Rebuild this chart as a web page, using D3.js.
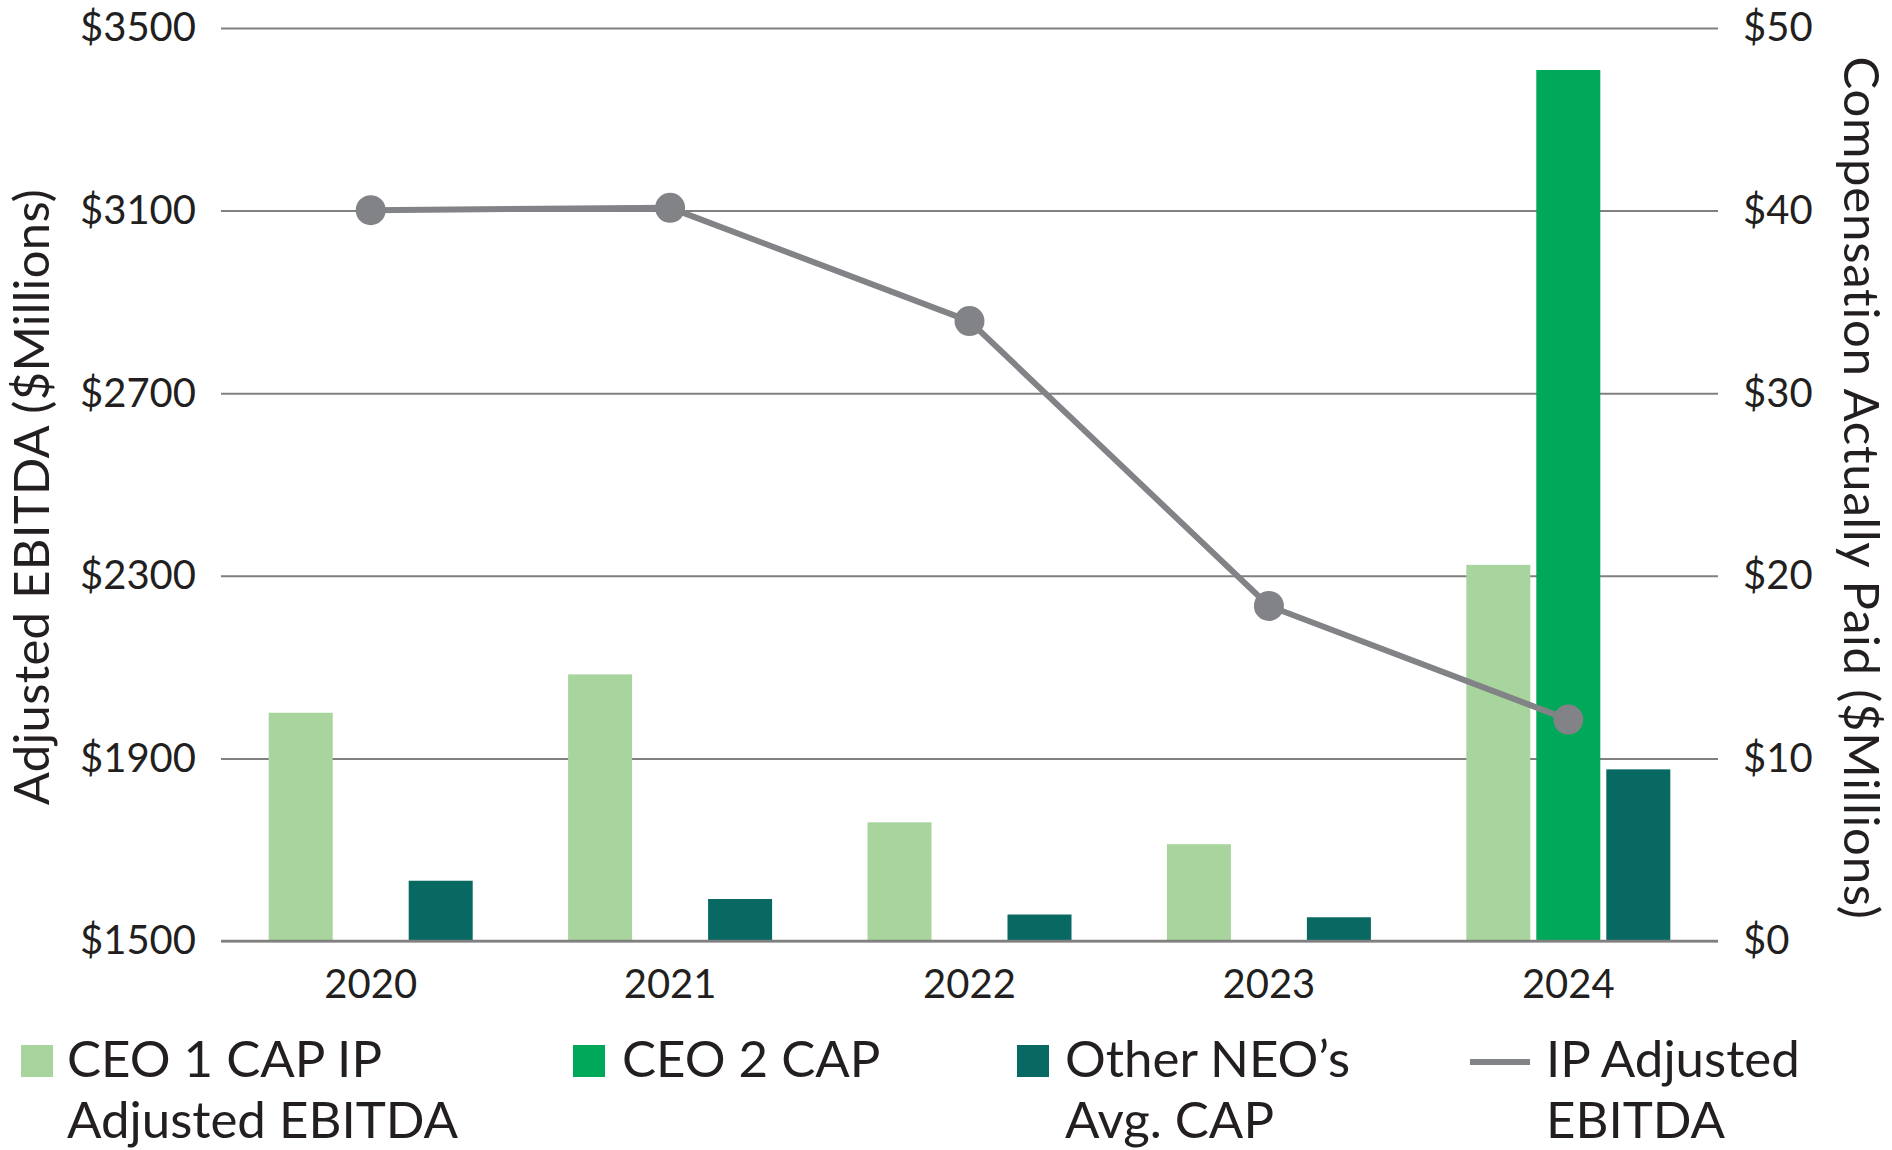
<!DOCTYPE html>
<html>
<head>
<meta charset="utf-8">
<script src="https://cdn.jsdelivr.net/npm/d3@7"></script>
<style>
  body { margin: 0; background: #fff; }
  svg text { font-family: Lato, "Open Sans", sans-serif; fill: #231f20; }
</style>
</head>
<body>
<div class="chart"></div>
<script>
// data
const years = ['2020', '2021', '2022', '2023', '2024'];
const ceo1Cap = [12.5, 14.6, 6.5, 5.3, 20.6];
const ceo2Cap = [null, null, null, null, 47.7];
const neoAvgCap = [3.3, 2.3, 1.45, 1.3, 9.4];
const ipEbitda = [3101, 3106, 2858, 2234, 1985];

const leftTicks = [1500, 1900, 2300, 2700, 3100, 3500];
const rightTicks = [0, 10, 20, 30, 40, 50];

const seriesKeys = ['ceo1', 'ceo2', 'neo'];
const seriesColors = ['#a8d59d', '#00a859', '#086962'];
const lineColor = '#828386';

const legendLabels = [
    ['CEO 1 CAP IP', 'Adjusted EBITDA'],
    ['CEO 2 CAP'],
    ['Other NEO\u2019s', 'Avg. CAP'],
    ['IP Adjusted', 'EBITDA']
];

const W = 1892, H = 1150;
const plotLeft = 221, plotRight = 1718, plotTop = 28, plotBottom = 941;

const svg = d3.select('.chart')
    .append('svg')
    .attr('width', W)
    .attr('height', H);

const x = d3.scaleBand().domain(years).range([plotLeft, plotRight]);
const yL = d3.scaleLinear().domain([1500, 3500]).range([plotBottom, plotTop]);
const yR = d3.scaleLinear().domain([0, 50]).range([plotBottom, plotTop]);

const groupW = 204;
const x1 = d3.scaleBand().domain(seriesKeys).range([0, groupW]).paddingInner(0.0857);

// gridlines + left labels
const leftAxis = svg.append('g')
    .attr('transform', `translate(${plotLeft},0)`)
    .call(d3.axisLeft(yL).tickValues(leftTicks).tickSize(-(plotRight - plotLeft)).tickPadding(25)
        .tickFormat(d => '$' + d));
leftAxis.select('.domain').remove();
leftAxis.selectAll('line').attr('stroke', '#808080').attr('stroke-width', 2);
leftAxis.selectAll('text').attr('font-size', 40);

// right labels
const rightAxis = svg.append('g')
    .attr('transform', `translate(${plotRight},0)`)
    .call(d3.axisRight(yR).tickValues(rightTicks).tickSize(0).tickPadding(25)
        .tickFormat(d => '$' + d));
rightAxis.select('.domain').remove();
rightAxis.selectAll('text').attr('font-size', 40);

// bars
const barData = [];
years.forEach((yr, i) => {
    [ceo1Cap, ceo2Cap, neoAvgCap].forEach((arr, k) => {
        if (arr[i] != null) barData.push({ year: yr, key: seriesKeys[k], value: arr[i], color: seriesColors[k] });
    });
});

svg.append('g').selectAll('rect')
    .data(barData)
    .enter()
    .append('rect')
    .attr('x', d => x(d.year) + x.bandwidth() / 2 - groupW / 2 + x1(d.key))
    .attr('width', x1.bandwidth())
    .attr('y', d => yR(d.value))
    .attr('height', d => yR(0) - yR(d.value))
    .attr('fill', d => d.color);

// bottom axis
const xAxis = svg.append('g')
    .attr('transform', `translate(0,${plotBottom})`)
    .call(d3.axisBottom(x).tickSize(0).tickPadding(0));
xAxis.select('.domain').remove();
xAxis.selectAll('text').attr('font-size', 40).attr('dy', null).attr('y', 57);

svg.append('line')
    .attr('x1', plotLeft).attr('x2', plotRight)
    .attr('y1', plotBottom).attr('y2', plotBottom)
    .attr('stroke', '#808080').attr('stroke-width', 2.5);

// EBITDA line
const line = d3.line()
    .x((d, i) => x(years[i]) + x.bandwidth() / 2)
    .y(d => yL(d));

svg.append('path')
    .datum(ipEbitda)
    .attr('d', line)
    .attr('fill', 'none')
    .attr('stroke', lineColor)
    .attr('stroke-width', 6);

svg.append('g').selectAll('circle')
    .data(ipEbitda)
    .enter()
    .append('circle')
    .attr('cx', (d, i) => x(years[i]) + x.bandwidth() / 2)
    .attr('cy', d => yL(d))
    .attr('r', 15)
    .attr('fill', lineColor);

// axis titles
svg.append('text')
    .attr('transform', 'translate(49,497) rotate(-90)')
    .attr('text-anchor', 'middle')
    .attr('font-size', 49)
    .attr('letter-spacing', 0.3)
    .text('Adjusted EBITDA ($Millions)');

svg.append('text')
    .attr('transform', 'translate(1844,488) rotate(90)')
    .attr('text-anchor', 'middle')
    .attr('font-size', 49)
    .attr('letter-spacing', 0.8)
    .text('Compensation Actually Paid ($Millions)');

// legend
const legendX = [21, 573, 1017, 1470];
const legendTextX = [67, 622, 1065, 1546];
const legend = svg.append('g');
legendLabels.forEach((lines, i) => {
    if (i < 3) {
        legend.append('rect')
            .attr('x', legendX[i]).attr('y', 1045)
            .attr('width', 32).attr('height', 32)
            .attr('fill', seriesColors[i]);
    } else {
        legend.append('line')
            .attr('x1', legendX[i]).attr('x2', legendX[i] + 60)
            .attr('y1', 1062).attr('y2', 1062)
            .attr('stroke', lineColor).attr('stroke-width', 6);
    }
    lines.forEach((t, j) => {
        legend.append('text')
            .attr('x', legendTextX[i])
            .attr('y', 1077 + j * 61)
            .attr('font-size', 51)
            .text(t);
    });
});
</script>
</body>
</html>
